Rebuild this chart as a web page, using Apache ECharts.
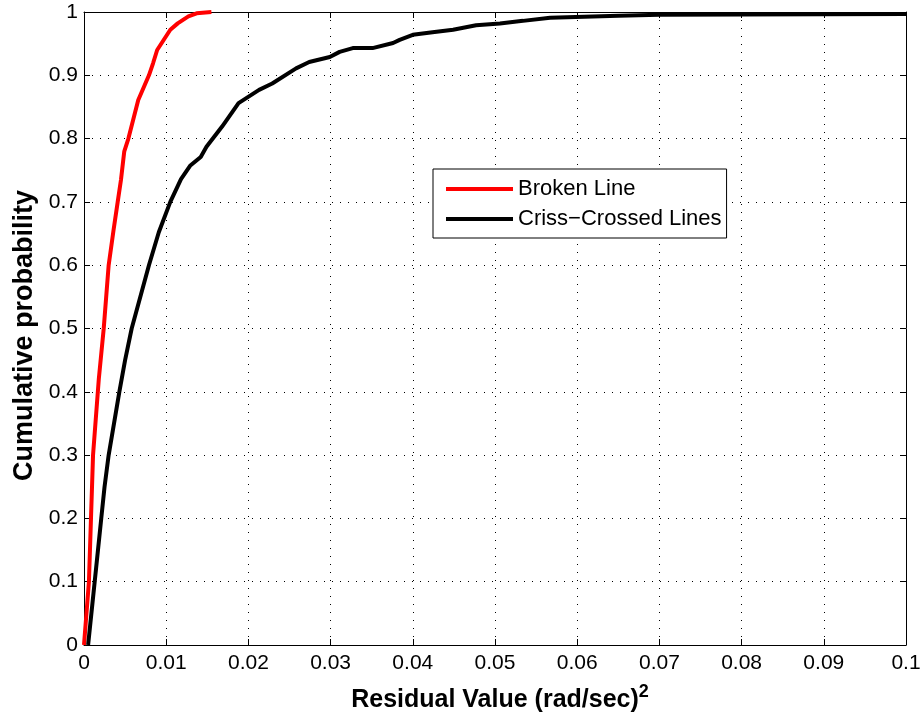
<!DOCTYPE html>
<html>
<head>
<meta charset="utf-8">
<script src="https://cdn.jsdelivr.net/npm/echarts@6/dist/echarts.min.js"></script>
<style>
  html, body { margin: 0; padding: 0; background: #fff; }
  #chart { width: 921px; height: 717px; }
</style>
</head>
<body>
<div id="chart"></div>
<script>
// Empirical CDFs of the residual value for two line configurations
const brokenX = [0, 0.0003, 0.0006, 0.00085, 0.0011, 0.0018, 0.0024, 0.003, 0.0036, 0.0041, 0.0045, 0.0049, 0.0054, 0.0066, 0.0079, 0.0084, 0.0089, 0.0105, 0.0114, 0.0127, 0.0137, 0.0155];
const brokenP = [0, 0.05, 0.1, 0.2, 0.3, 0.42, 0.5, 0.6, 0.656, 0.7, 0.735, 0.78, 0.8, 0.861, 0.9, 0.919, 0.94, 0.972, 0.982, 0.993, 0.998, 1];

const crissX = [0.0005, 0.0013, 0.0021, 0.0025, 0.003, 0.0043, 0.005, 0.0058, 0.0079, 0.0091, 0.0105, 0.0118, 0.0129, 0.0142, 0.0149, 0.0168, 0.0188, 0.0213, 0.0229, 0.0258, 0.0274, 0.0299, 0.0311, 0.0327, 0.0351, 0.0376, 0.0384, 0.04, 0.0424, 0.0449, 0.0477, 0.0506, 0.0534, 0.0567, 0.065, 0.07, 0.08, 0.1];
const crissP = [0, 0.1, 0.2, 0.25, 0.3, 0.4, 0.45, 0.5, 0.6, 0.652, 0.7, 0.736, 0.757, 0.771, 0.787, 0.819, 0.856, 0.877, 0.887, 0.911, 0.921, 0.929, 0.937, 0.943, 0.943, 0.951, 0.956, 0.964, 0.968, 0.972, 0.979, 0.982, 0.986, 0.991, 0.994, 0.9955, 0.996, 0.997];

const seriesNames = ['Broken Line', 'Criss\u2212Crossed Lines'];
const xTitle = 'Residual Value (rad/sec)';
const yTitle = 'Cumulative probability';

const pairs = (xs, ys) => xs.map((x, i) => [x, ys[i]]);

const FONT = 'Liberation Sans, Arial, Helvetica, sans-serif';
const gridDots = { show: true, lineStyle: { color: '#000', width: 1, type: [1, 7] } };
const axisLine = { show: true, onZero: false, lineStyle: { color: '#000', width: 1 } };
const tickIn = { show: true, inside: true, length: 6, lineStyle: { color: '#000', width: 1 } };

const chart = echarts.init(document.getElementById('chart'), null, { renderer: 'canvas' });
chart.setOption({
  animation: false,
  backgroundColor: '#fff',
  textStyle: { fontFamily: FONT },
  grid: { left: 84, right: 15, top: 12, bottom: 72, containLabel: false, outerBoundsMode: 'none' },
  legend: {
    orient: 'vertical',
    left: 433,
    top: 169,
    padding: [9, 5, 8, 13],
    itemGap: 8,
    itemWidth: 67,
    itemHeight: 4,
    backgroundColor: '#fff',
    borderColor: '#000',
    borderWidth: 1,
    borderRadius: 0,
    textStyle: { fontSize: 22, color: '#000', fontFamily: FONT },
    data: seriesNames.map(n => ({ name: n, icon: 'rect' }))
  },
  xAxis: [
    {
      type: 'value', min: 0, max: 0.1, interval: 0.01,
      name: '{t|' + xTitle + '}{s|2}',
      nameLocation: 'middle', nameGap: 38,
      nameTextStyle: {
        padding: [0, 0, 0, 10],
        rich: {
          t: { fontSize: 25, fontWeight: 'bold', color: '#000', fontFamily: FONT, lineHeight: 30, verticalAlign: 'bottom' },
          s: { fontSize: 18, fontWeight: 'bold', color: '#000', fontFamily: FONT, lineHeight: 30, verticalAlign: 'top' }
        }
      },
      axisLine: axisLine, axisTick: tickIn,
      axisLabel: { fontSize: 21, color: '#000', margin: 8, fontFamily: FONT },
      splitLine: gridDots
    },
    {
      type: 'value', position: 'top', min: 0, max: 0.1, interval: 0.01,
      axisLine: axisLine, axisTick: tickIn, axisLabel: { show: false }, splitLine: { show: false }
    }
  ],
  yAxis: [
    {
      type: 'value', min: 0, max: 1, interval: 0.1,
      name: yTitle, nameLocation: 'middle', nameGap: 45,
      nameTextStyle: { fontSize: 27, fontWeight: 'bold', color: '#000', fontFamily: FONT, padding: [0, 14, 0, 0] },
      axisLine: axisLine, axisTick: tickIn,
      axisLabel: { fontSize: 21, color: '#000', margin: 6, fontFamily: FONT },
      splitLine: gridDots
    },
    {
      type: 'value', position: 'right', min: 0, max: 1, interval: 0.1,
      axisLine: axisLine, axisTick: tickIn, axisLabel: { show: false }, splitLine: { show: false }
    }
  ],
  series: [
    {
      name: seriesNames[0], type: 'line', data: pairs(brokenX, brokenP),
      showSymbol: false, symbol: 'none', clip: false,
      lineStyle: { color: '#ff0000', width: 4 }, itemStyle: { color: '#ff0000' }
    },
    {
      name: seriesNames[1], type: 'line', data: pairs(crissX, crissP),
      showSymbol: false, symbol: 'none', clip: false,
      lineStyle: { color: '#000000', width: 4 }, itemStyle: { color: '#000000' }
    }
  ]
});
</script>
</body>
</html>
